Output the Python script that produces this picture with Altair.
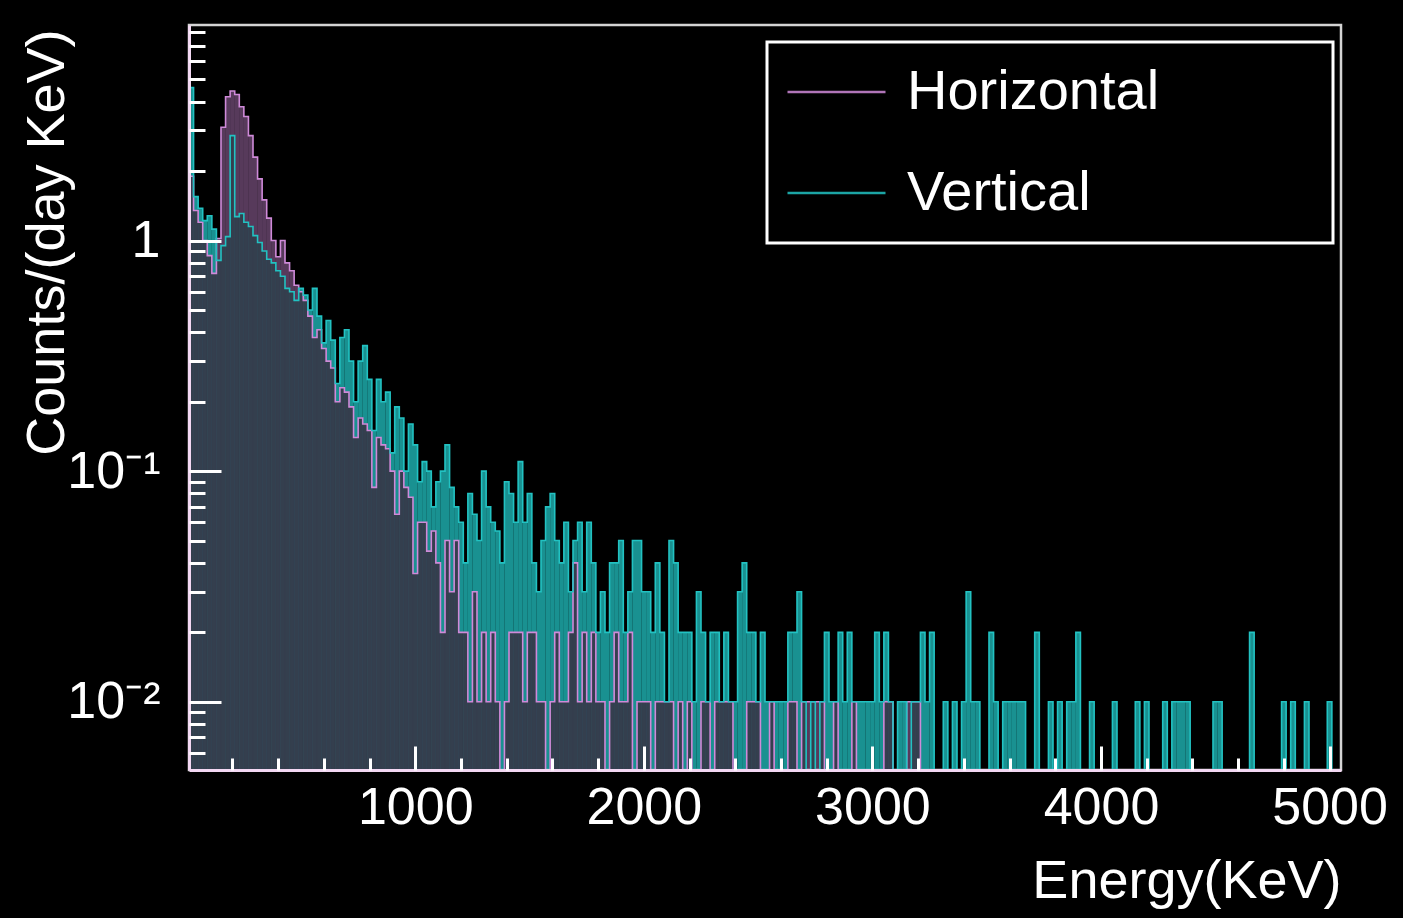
import altair as alt
import pandas as pd

# ---------------- data ----------------
BIN_START = 10     # keV, lower edge of the first bin
BIN_WIDTH = 20     # keV per bin
SERIES = ["Horizontal", "Vertical"]

# Counts/(day KeV) per 20 keV bin, bins 0..251 (10 .. 5050 keV)
horizontal = [
    1.9, 1.35, 1.2, 1.0, 0.86, 0.72, 1.02, 3.1, 4.2, 4.45,
    4.3, 3.8, 3.45, 2.85, 2.3, 1.85, 1.5, 1.25, 1.0, 0.85,
    1.0, 0.8, 0.74, 0.64, 0.6, 0.55, 0.47, 0.38, 0.41, 0.34,
    0.3, 0.28, 0.2, 0.23, 0.22, 0.19, 0.14, 0.17, 0.16, 0.15,
    0.085, 0.14, 0.13, 0.125, 0.1, 0.065, 0.1, 0.085, 0.077, 0.036,
    0.06, 0.06, 0.045, 0.055, 0.04, 0.02, 0.05, 0.03, 0.05, 0.02,
    0.02, 0.01, 0.03, 0.01, 0.02, 0.01, 0.02, 0.01, 0, 0.01,
    0.02, 0.02, 0.02, 0.01, 0.02, 0.02, 0.01, 0.01, 0, 0.01,
    0.02, 0.01, 0.01, 0.02, 0.04, 0.01, 0.02, 0.01, 0.02, 0.01,
    0.01, 0, 0.01, 0.02, 0.01, 0.01, 0.02, 0, 0.01, 0.01,
    0.01, 0, 0.01, 0.01, 0.01, 0.01, 0, 0.01, 0, 0.01,
    0, 0, 0.01, 0.01, 0, 0.01, 0.01, 0.01, 0.01, 0,
    0, 0, 0.01, 0.01, 0.01, 0, 0, 0.01, 0, 0,
    0, 0.01, 0.01, 0, 0.01, 0.01, 0.01, 0.01, 0.01, 0,
    0, 0.01, 0, 0, 0, 0.01, 0, 0, 0, 0,
    0, 0, 0.01, 0.01, 0, 0, 0, 0.01, 0.01, 0.01,
    0, 0, 0, 0, 0, 0, 0, 0, 0, 0,
    0, 0, 0, 0, 0, 0, 0, 0, 0, 0,
    0, 0, 0, 0, 0, 0, 0, 0, 0, 0,
    0, 0, 0, 0, 0, 0, 0, 0, 0, 0,
    0, 0, 0, 0, 0, 0, 0, 0, 0, 0,
    0, 0, 0, 0, 0, 0, 0, 0, 0, 0,
    0, 0, 0, 0, 0, 0, 0, 0, 0, 0,
    0, 0, 0, 0, 0, 0, 0, 0, 0, 0,
    0, 0, 0, 0, 0, 0, 0, 0, 0, 0,
    0, 0,
]

vertical = [
    4.6, 1.55, 1.38, 1.22, 1.28, 1.12, 0.82, 0.95, 1.04, 2.85,
    1.27, 1.31, 1.2, 1.15, 1.05, 0.98, 0.9, 0.83, 0.8, 0.74,
    0.7, 0.62, 0.6, 0.55, 0.62, 0.58, 0.5, 0.62, 0.47, 0.36,
    0.45, 0.37, 0.24, 0.38, 0.41, 0.3, 0.2, 0.3, 0.35, 0.25,
    0.15, 0.25, 0.2, 0.22, 0.12, 0.19, 0.17, 0.1, 0.16, 0.13,
    0.09, 0.11, 0.1, 0.07, 0.09, 0.1, 0.13, 0.085, 0.07, 0.06,
    0.04, 0.08, 0.065, 0.05, 0.1, 0.07, 0.06, 0.055, 0.04, 0.09,
    0.08, 0.06, 0.11, 0.06, 0.08, 0.04, 0.03, 0.05, 0.07, 0.08,
    0.05, 0.04, 0.06, 0.03, 0.05, 0.06, 0.03, 0.06, 0.04, 0.02,
    0.03, 0.02, 0.04, 0.04, 0.05, 0.02, 0.03, 0.05, 0.05, 0.03,
    0.03, 0.02, 0.04, 0.02, 0.01, 0.05, 0.04, 0.02, 0.02, 0.02,
    0.01, 0.03, 0.02, 0.01, 0.02, 0.02, 0.01, 0.02, 0.01, 0.01,
    0.03, 0.04, 0.02, 0.02, 0.01, 0.02, 0.01, 0.01, 0.01, 0.01,
    0.01, 0.02, 0.02, 0.03, 0.01, 0, 0.01, 0, 0.01, 0.02,
    0.01, 0.01, 0.02, 0.01, 0.02, 0.01, 0.01, 0.01, 0.01, 0.01,
    0.02, 0.01, 0.02, 0.01, 0, 0.01, 0.01, 0, 0.01, 0.01,
    0.02, 0.01, 0.02, 0, 0, 0.01, 0, 0.01, 0, 0.01,
    0.03, 0.01, 0.01, 0, 0, 0.02, 0.01, 0, 0.01, 0.01,
    0.01, 0.01, 0.01, 0, 0, 0.02, 0, 0, 0.01, 0,
    0.01, 0, 0.01, 0.01, 0.02, 0, 0, 0.01, 0, 0,
    0, 0, 0.01, 0, 0, 0, 0, 0.01, 0, 0.01,
    0, 0, 0, 0.01, 0, 0.01, 0.01, 0.01, 0.01, 0,
    0, 0, 0, 0, 0.01, 0.01, 0, 0, 0, 0,
    0, 0, 0.02, 0, 0, 0, 0, 0, 0, 0.01,
    0, 0.01, 0, 0, 0.01, 0, 0, 0, 0, 0.01,
    0, 0,
]

x_major = [1000, 2000, 3000, 4000, 5000]
x_minor = [200, 400, 600, 800, 1200, 1400, 1600, 1800, 2200, 2400, 2600, 2800,
           3200, 3400, 3600, 3800, 4200, 4400, 4600, 4800]
y_major = [0.01, 0.1, 1]
y_minor = [0.006, 0.007, 0.008, 0.009, 0.02, 0.03, 0.04, 0.05, 0.06, 0.07, 0.08, 0.09,
           0.2, 0.3, 0.4, 0.5, 0.6, 0.7, 0.8, 0.9, 2, 3, 4, 5, 6, 7, 8]

X_DOMAIN = [10, 5050]
Y_DOMAIN = [0.00506, 8.6]
FLOOR = 0.001   # where empty bins are drawn (below the frame, clipped)

# ---------------- styling ----------------
FONT = "Liberation Sans"
PINK = "#cf8ad9"
TEAL = "#22c2c2"
OVERLAP = "#343f4e"
FRAME = "#f3d8f3"
W, H = 1152, 745

# ---------------- tables ----------------
n = len(horizontal)
lo = [BIN_START + BIN_WIDTH * i for i in range(n)]
hi = [x + BIN_WIDTH for x in lo]
wide = pd.DataFrame({"lo": lo, "hi": hi, "Horizontal": horizontal, "Vertical": vertical})

rows = []
for name, vals in (("Horizontal", horizontal), ("Vertical", vertical)):
    k = 0
    rows.append({"series": name, "k": k, "edge": lo[0], "yv": FLOOR})
    for i, v in enumerate(vals):
        yv = v if v > 0 else FLOOR
        k += 1
        rows.append({"series": name, "k": k, "edge": lo[i], "yv": yv})
        k += 1
        rows.append({"series": name, "k": k, "edge": hi[i], "yv": yv})
    k += 1
    rows.append({"series": name, "k": k, "edge": hi[-1], "yv": FLOOR})
outline = pd.DataFrame(rows)

xs = alt.Scale(domain=X_DOMAIN, nice=False, zero=False)
ys = alt.Scale(type="log", domain=Y_DOMAIN, nice=False)

x_label_axis = alt.Axis(
    orient="bottom", values=x_major, format="d", labelFontSize=52, labelFont=FONT,
    labelColor="white", labelPadding=12, labelFlush=False, ticks=False, tickSize=0,
    domainColor=FRAME, domainWidth=3, grid=False,
    title="Energy(KeV)", titleFont=FONT, titleFontSize=54, titleFontWeight="normal",
    titleColor="white", titleAlign="right", titleX=W, titleY=127,
    titleBaseline="alphabetic", zindex=1)

y_label_axis = alt.Axis(
    orient="left", values=y_major,
    labelExpr="datum.value > 0.5 ? '1' : (datum.value > 0.05 ? '10\u207b\u00b9' : '10\u207b\u00b2')",
    labelFontSize=52, labelFont=FONT, labelColor="white", labelPadding=29,
    ticks=False, tickSize=0, domainColor=FRAME, domainWidth=3, grid=False,
    title="Counts/(day KeV)", titleFont=FONT, titleFontSize=54, titleFontWeight="normal",
    titleColor="white", titleAngle=270, titleAlign="right", titleX=-126, titleY=4,
    titleBaseline="alphabetic", zindex=1)

def tick_axis(orient, offset, values, size):
    return alt.Axis(orient=orient, offset=offset, values=values, labels=False,
                    domain=False, grid=False, ticks=True, tickSize=size, tickWidth=3,
                    tickColor="white", title=None, zindex=2)

base = alt.Chart(wide)

h_fill = base.transform_filter("datum.Horizontal > 0").mark_rect(
    color=PINK, opacity=0.42
).encode(
    x=alt.X("lo:Q", scale=xs, axis=x_label_axis), x2="hi:Q",
    y=alt.Y("Horizontal:Q", scale=ys, axis=y_label_axis), y2=alt.datum(Y_DOMAIN[0]),
)

v_fill = base.transform_filter("datum.Vertical > 0").mark_rect(
    color=TEAL, opacity=0.75
).encode(
    x=alt.X("lo:Q", scale=xs, axis=tick_axis("top", -H, x_major, 24)), x2="hi:Q",
    y=alt.Y("Vertical:Q", scale=ys, axis=tick_axis("right", -W, y_major, 32)),
    y2=alt.datum(Y_DOMAIN[0]),
)

overlap = base.transform_calculate(
    m="min(datum.Horizontal, datum.Vertical)"
).transform_filter("datum.m > 0").mark_rect(
    color=OVERLAP, stroke=OVERLAP, strokeWidth=0.5
).encode(
    x=alt.X("lo:Q", scale=xs, axis=tick_axis("top", -H, x_minor, 12)), x2="hi:Q",
    y=alt.Y("m:Q", scale=ys, axis=tick_axis("right", -W, y_minor, 16)),
    y2=alt.datum(Y_DOMAIN[0]),
)

# trailing no-break spaces (closed by a zero-width space so they are not trimmed)
# widen the legend box to the reference's size
PAD = "\u00a0" * 9 + "\u2009\u200b"
legend = alt.Legend(
    orient="none", legendX=578, legendY=17, title=None,
    symbolType="M-2,0H2", symbolSize=2401, symbolStrokeWidth=2.5, symbolOpacity=0.85,
    symbolOffset=19.5,
    labelFontSize=56, labelFont=FONT, labelColor="white", labelOffset=42.5,
    labelLimit=900, padding=22, rowPadding=45, fillColor="black", strokeColor="white",
    labelExpr=f"datum.label + '{PAD}'",
)
color = alt.Color("series:N", scale=alt.Scale(domain=SERIES, range=[PINK, TEAL]), legend=legend)

lines = []
for name in SERIES:
    lines.append(
        alt.Chart(outline).transform_filter(f"datum.series == '{name}'")
        .mark_line(clip=True, strokeWidth=1.6, interpolate="linear")
        .encode(
            x=alt.X("edge:Q", scale=xs, axis=None),
            y=alt.Y("yv:Q", scale=ys, axis=None),
            color=color,
            order=alt.Order("k:Q"),
        )
    )

chart = alt.layer(h_fill, v_fill, overlap, *lines).resolve_axis(
    x="independent", y="independent"
).properties(
    width=W, height=H, background="black",
    padding={"left": 189, "top": 25, "right": 62, "bottom": 148},
    autosize=alt.AutoSizeParams(type="none"),
).configure_view(
    stroke="#d4d4d4", strokeWidth=2.5
).configure_legend(strokeWidth=3)

chart.save("out.html", embed_options={"renderer": "svg", "actions": False})
